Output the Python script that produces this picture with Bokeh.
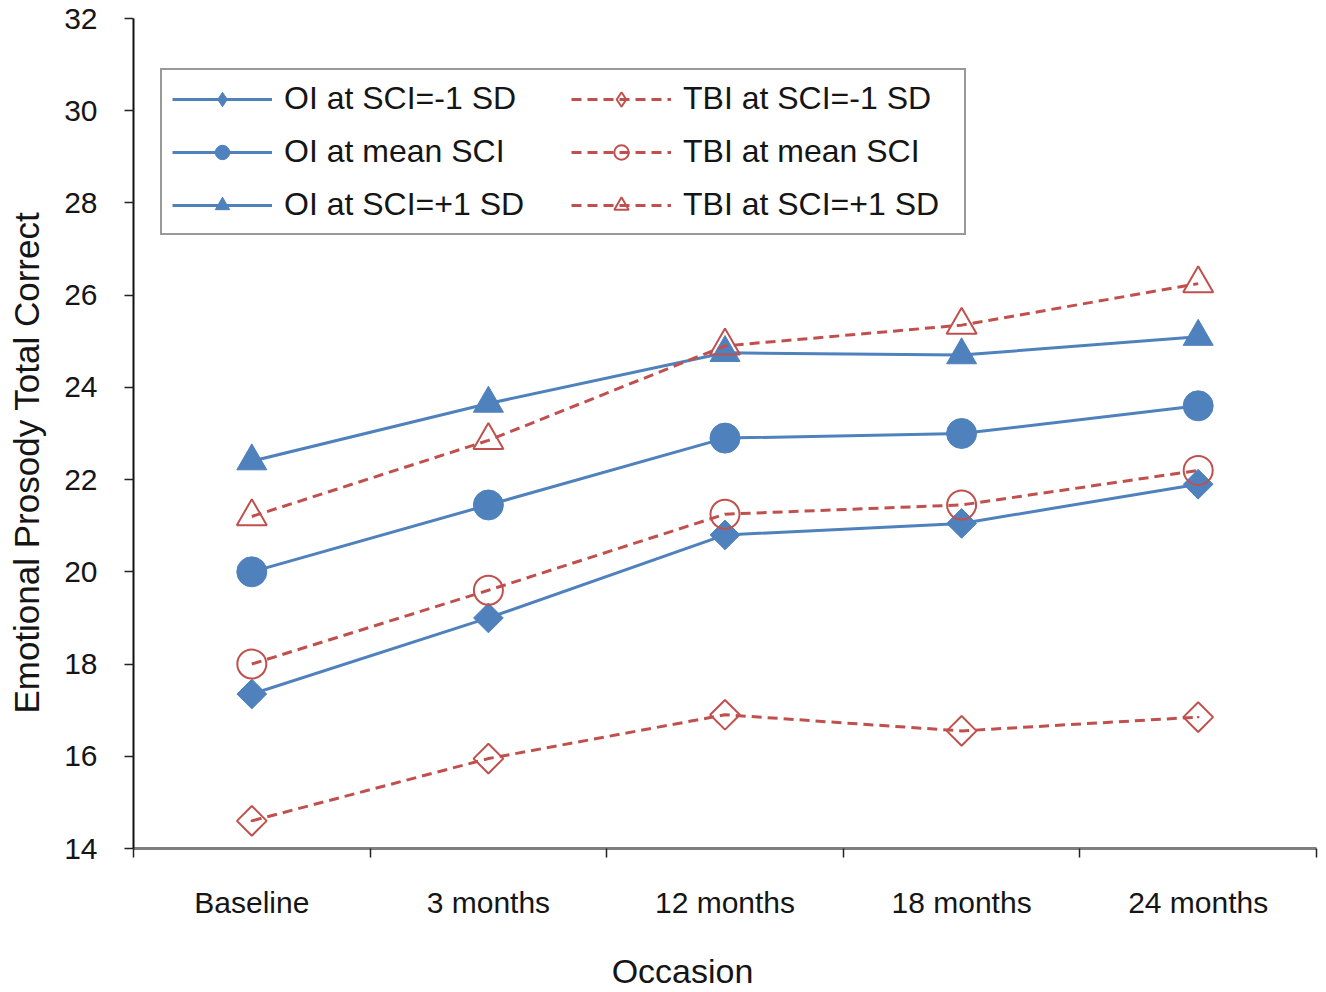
from bokeh.plotting import figure
from bokeh.models import Legend, LegendItem, FixedTicker, Range1d
from bokeh.embed import file_html
from bokeh.resources import INLINE
import math

categories = ["Baseline", "3 months", "12 months", "18 months", "24 months"]
oi_minus = [17.35, 19.0, 20.8, 21.05, 21.9]
oi_mean = [20.0, 21.45, 22.9, 23.0, 23.6]
oi_plus = [22.4, 23.65, 24.75, 24.7, 25.1]
tbi_minus = [14.6, 15.95, 16.9, 16.55, 16.85]
tbi_mean = [18.0, 19.6, 21.25, 21.45, 22.2]
tbi_plus = [21.2, 22.85, 24.9, 25.35, 26.25]
y_ticks = [14, 16, 18, 20, 22, 24, 26, 28, 30, 32]
x_title = "Occasion"
y_title = "Emotional Prosody Total Correct"

FONT = "Liberation Sans"
BLUE = "#4F81BD"
RED = "#C0504D"
TXT = "#151515"
NBSP = "\u00a0"

xs = [i + 1 for i in range(len(categories))]

p = figure(width=1318, height=992, output_backend="svg", toolbar_location=None,
           x_range=Range1d(0.5, len(categories) + 0.5), y_range=Range1d(14, 32),
           min_border_left=133, min_border_right=2, min_border_top=18, min_border_bottom=144)
p.outline_line_color = None
p.xgrid.grid_line_color = None
p.ygrid.grid_line_color = None

# axes
p.xaxis.ticker = FixedTicker(ticks=xs, minor_ticks=[x - 0.5 for x in xs] + [xs[-1] + 0.5])
p.xaxis.major_label_overrides = {x: c for x, c in zip(xs, categories)}
p.xaxis.major_tick_line_color = None
p.xaxis.major_tick_out = 0
p.xaxis.major_tick_in = 0
p.xaxis.minor_tick_line_color = "#222222"
p.xaxis.minor_tick_line_width = 1.5
p.xaxis.minor_tick_out = 9
p.xaxis.minor_tick_in = 0
p.xaxis.axis_line_color = "#7f7f7f"
p.xaxis.axis_line_width = 3
p.xaxis.major_label_standoff = 28
p.xaxis.major_label_text_font = FONT
p.xaxis.major_label_text_font_size = "30px"
p.xaxis.major_label_text_color = TXT
# trailing no-break spaces shift the visible title slightly left of centre, as in the original
p.xaxis.axis_label = x_title + NBSP * 9
p.xaxis.axis_label_text_font = FONT
p.xaxis.axis_label_text_font_size = "34px"
p.xaxis.axis_label_text_font_style = "normal"
p.xaxis.axis_label_text_color = TXT
p.xaxis.axis_label_standoff = 30

p.yaxis.ticker = FixedTicker(ticks=y_ticks, minor_ticks=[])
p.yaxis.major_tick_out = 9
p.yaxis.major_tick_in = 0
p.yaxis.major_tick_line_color = "#222222"
p.yaxis.major_tick_line_width = 1.5
p.yaxis.minor_tick_line_color = None
p.yaxis.axis_line_color = "#111111"
p.yaxis.axis_line_width = 2
p.yaxis.major_label_standoff = 27
p.yaxis.major_label_text_font = FONT
p.yaxis.major_label_text_font_size = "30px"
p.yaxis.major_label_text_color = TXT
# trailing no-break spaces shift the visible title slightly below centre, as in the original
p.yaxis.axis_label = y_title + NBSP * 6
p.yaxis.axis_label_text_font = FONT
p.yaxis.axis_label_text_font_size = "35px"
p.yaxis.axis_label_text_font_style = "normal"
p.yaxis.axis_label_text_color = TXT
p.yaxis.axis_label_standoff = 15

series = [
    ("OI at SCI=-1 SD", oi_minus, BLUE, "solid", "diamond", True, 21),
    ("OI at mean SCI", oi_mean, BLUE, "solid", "circle", True, 30),
    ("OI at SCI=+1 SD", oi_plus, BLUE, "solid", "triangle", True, 30),
    ("TBI at SCI=-1 SD", tbi_minus, RED, "10 6", "diamond", False, 21),
    ("TBI at mean SCI", tbi_mean, RED, "10 6", "circle", False, 29),
    ("TBI at SCI=+1 SD", tbi_plus, RED, "10 6", "triangle", False, 30),
]

items = []
for label, ys, color, dash, marker, filled, size in series:
    fill = color if filled else None
    lw = 1 if filled else 2
    line_r = p.line(xs, ys, line_color=color, line_width=3, line_dash=dash)
    if marker == "diamond":
        # drawn as squares turned by 45 degrees; a tiny diamond glyph serves the legend
        p.scatter(xs, ys, marker="square", size=size, angle=math.pi / 4,
                  fill_color=fill, line_color=color, line_width=lw)
        leg_r = p.scatter(xs, ys, marker="diamond", size=1,
                          fill_color=fill, line_color=color, line_width=lw)
    else:
        leg_r = p.scatter(xs, ys, marker=marker, size=size,
                          fill_color=fill, line_color=color, line_width=lw)
    items.append(LegendItem(label=label, renderers=[line_r, leg_r]))

legend = Legend(items=items, location=(27, 613), orientation="vertical", nrows=3,
                label_text_font=FONT, label_text_font_size="32px", label_text_color=TXT,
                glyph_width=100, glyph_height=36, label_width=271, label_standoff=12,
                spacing=16, padding=10, margin=0,
                border_line_color="#333333", border_line_width=2,
                background_fill_color="white", background_fill_alpha=1)
p.add_layout(legend, "center")

open("out.html", "w").write(file_html(p, INLINE))
